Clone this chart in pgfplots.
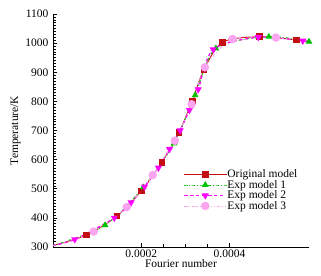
\documentclass[border=0pt]{standalone}
\usepackage{fontspec}
\setmainfont{Liberation Serif}
\usepackage{pgfplots}
\pgfplotsset{compat=1.18}

\definecolor{origred}{RGB}{195,15,20}
\definecolor{expgreen}{RGB}{0,195,0}
\definecolor{expmag}{RGB}{255,0,255}
\definecolor{exppink}{RGB}{250,165,240}

\newcommand{\chartfont}{\fontsize{11.5}{12}\selectfont}

\begin{document}
\begin{tikzpicture}
\begin{axis}[
    width=256pt, height=233pt, scale only axis,
    xmin=0, xmax=0.00058, ymin=300, ymax=1100,
    axis x line*=bottom, axis y line*=left,
    xtick={0.0002,0.0004}, xticklabels={0.0002,0.0004},
    scaled x ticks=false,
    minor x tick num=3,
    ytick={300,400,...,1100},
    minor y tick num=9,
    tick align=inside,
    major tick length=4pt, minor tick length=2.5pt,
    tick style={black, line width=0.6pt},
    axis line style={line width=0.8pt},
    /pgf/number format/assume math mode=true,
    /pgf/number format/1000 sep={},
    tick label style={font=\chartfont},
    label style={font=\chartfont},
    xlabel={Fourier number}, ylabel={Temperature/K},
    xlabel style={yshift=5pt}, ylabel style={yshift=-2pt},
    xticklabel style={yshift=1pt},
    yticklabel style={xshift=-1pt},
    legend cell align=left,
    legend style={draw=none, fill=none, at={(0.498,0.343)}, anchor=north west,
        row sep=0pt, font=\chartfont,
        nodes={inner sep=0.5pt}},
    legend image code/.code={
        \draw[#1, mark indices={2}] plot coordinates {(0pt,0pt) (21pt,0pt) (42pt,0pt)};},
]
\addplot[origred, line width=0.9pt, smooth, mark=square*, mark size=2.8pt,
    mark options={solid, fill=origred}, mark indices={2,3,4,5,6,7,8,9,10,11}]
    coordinates {(0,305)(0.0000757,341)(0.0001446,406)(0.0002,493)(0.0002464,591)
    (0.0002854,693)(0.0003154,802)(0.0003416,908)(0.0003843,1003)(0.0004674,1022)
    (0.000551,1011)(0.00058,1005)};
\addplot[expgreen, line width=0.9pt, smooth, dash dot, mark=triangle*, mark size=3pt,
    mark options={solid, fill=expgreen}, mark indices={2,3,4,5,6,7,8}]
    coordinates {(0,305)(0.000118,375)(0.0002045,505)(0.000274,656)(0.000322,821)
    (0.000369,982)(0.000489,1022)(0.00058,1005)};
\addplot[expmag, line width=1.2pt, smooth, dashed, mark=triangle*, mark size=3pt,
    mark options={solid, fill=expmag, rotate=180},
    mark indices={2,3,4,5,6,7,8,9,10,11,12,13}]
    coordinates {(0,305)(0.0000494,326)(0.000139,400)(0.000177,453)(0.0002075,507)
    (0.000239,572)(0.000264,636)(0.000288,700)(0.000309,770)(0.000329,841)
    (0.000363,978)(0.000465,1020)(0.000566,1008)(0.00058,1005)};
\addplot[exppink, line width=0.9pt, smooth, dash dot dot, mark=*, mark size=3.8pt,
    mark options={solid, fill=exppink, draw=exppink}, mark indices={2,3,4,5,6,7,8,9}]
    coordinates {(0,305)(0.0000921,353)(0.000167,437)(0.000226,547)(0.000276,665)
    (0.000314,790)(0.000344,917)(0.000407,1014)(0.000505,1019)(0.00058,1005)};
\legend{Original model, Exp model 1, Exp model 2, Exp model 3}
\coordinate (bl) at (rel axis cs:0,0);
\coordinate (tr) at (rel axis cs:1,1);
\end{axis}
\pgfresetboundingbox
\path (bl) ++(-53pt,-29pt) rectangle ([xshift=12pt,yshift=14pt]tr);
\end{tikzpicture}
\end{document}
